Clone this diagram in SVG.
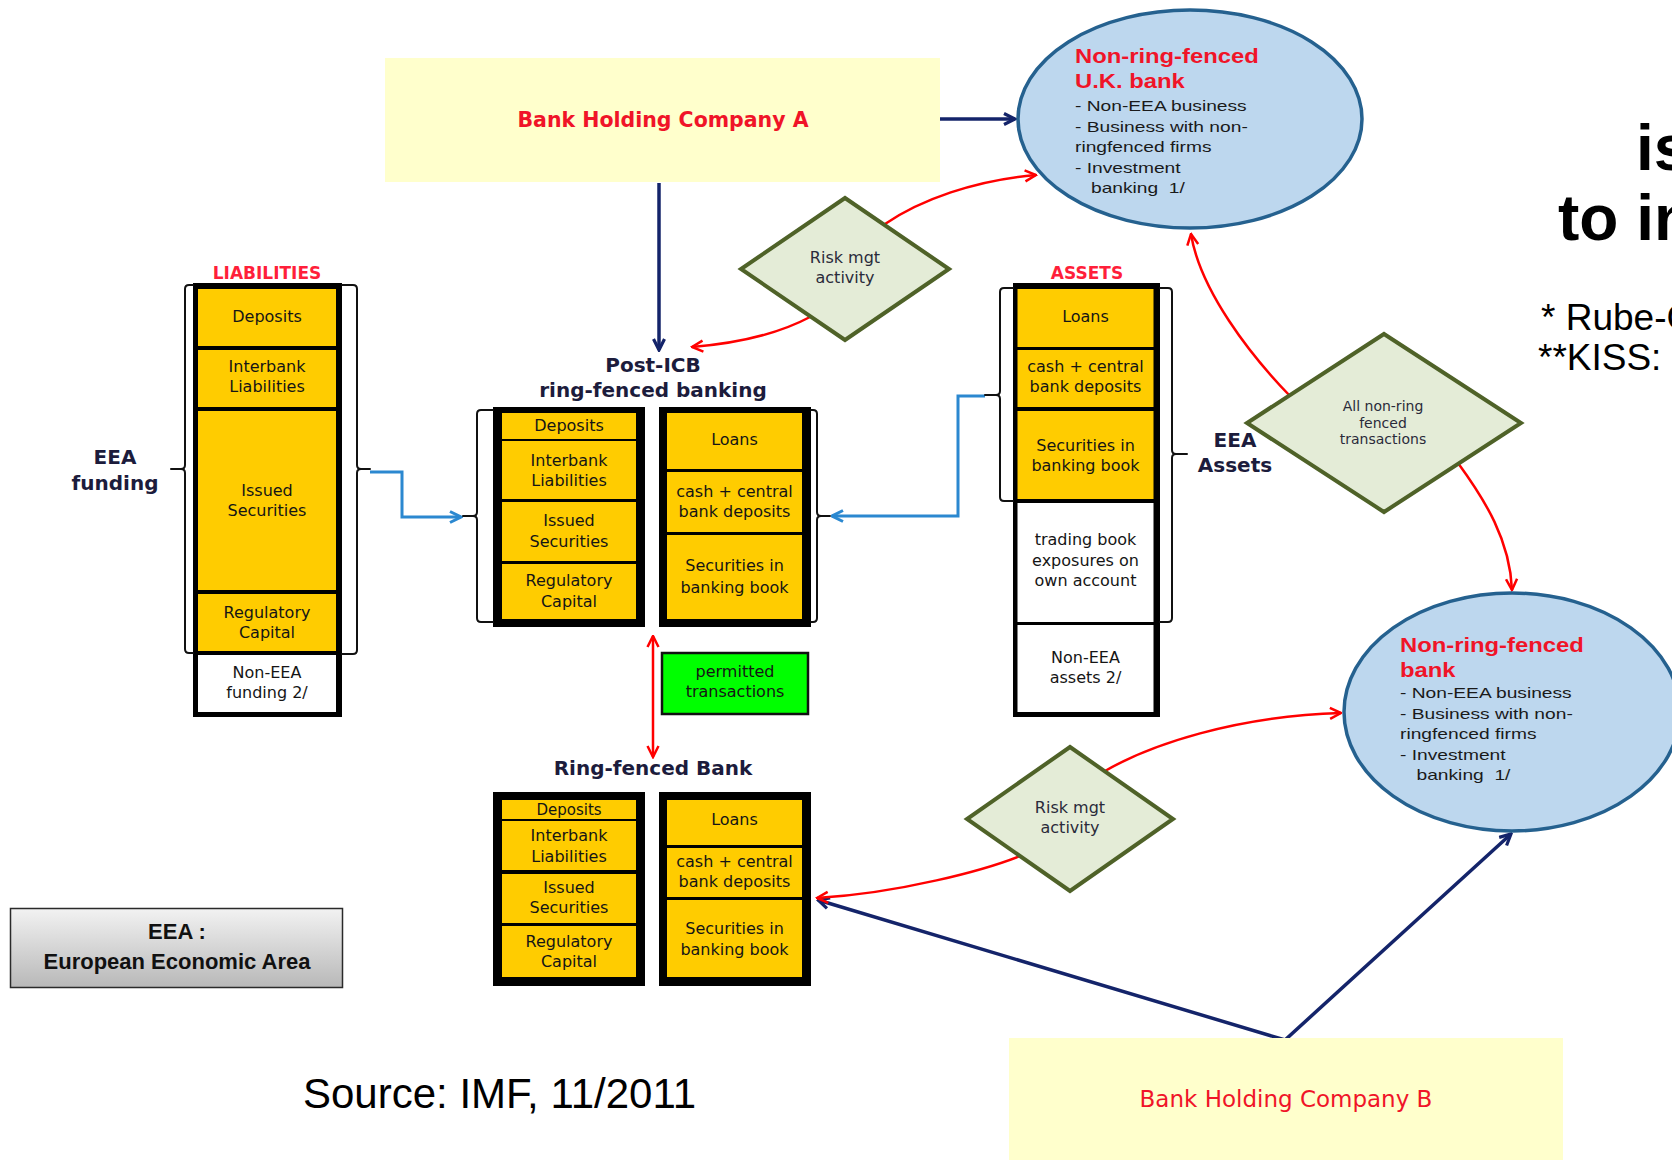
<svg xmlns="http://www.w3.org/2000/svg" width="1672" height="1160" viewBox="0 0 1672 1160">
<defs>
<style>
.bx{font-family:"DejaVu Sans",sans-serif;font-size:16px;fill:#151515;text-anchor:middle}
.ttl{font-family:"DejaVu Sans",sans-serif;font-weight:bold;font-size:20px;fill:#1c1c3c;text-anchor:middle}
.lbl{font-family:"DejaVu Sans",sans-serif;font-weight:bold;font-size:17px;fill:#ff1f3a;text-anchor:middle}
.dm{font-family:"DejaVu Sans",sans-serif;font-size:16px;fill:#2a2a3a;text-anchor:middle}
.elt{font-family:"Liberation Sans",Arial,sans-serif;font-weight:bold;font-size:20px;fill:#f01428}
.elb{font-family:"Liberation Sans",Arial,sans-serif;font-size:15px;fill:#1a1a1a}
.outer{fill:#000}
.y{fill:#ffcc00}
.w{fill:#fff}
.br{fill:none;stroke:#111;stroke-width:2;stroke-linecap:round}
.dia{fill:#e4ecd7;stroke:#4f6228;stroke-width:4;stroke-linejoin:miter}
.ell{fill:#bdd7ee;stroke:#25618f;stroke-width:3.5}
.bhc{fill:#ffffcc}
.red{fill:none;stroke:#ff0000;stroke-width:2.5}
.blue{fill:none;stroke:#2b88d0;stroke-width:3}
.navy{fill:none;stroke:#14246a;stroke-width:3.5}
</style>
<marker id="arR" viewBox="0 0 14 14" refX="12.5" refY="7" markerWidth="14" markerHeight="14" markerUnits="userSpaceOnUse" orient="auto-start-reverse"><path d="M1.5,1.5 L12.5,7 L1.5,12.5" fill="none" stroke="#ff0000" stroke-width="2.5"/></marker>
<marker id="arB" viewBox="0 0 14 14" refX="12.5" refY="7" markerWidth="14" markerHeight="14" markerUnits="userSpaceOnUse" orient="auto-start-reverse"><path d="M1.5,1.5 L12.5,7 L1.5,12.5" fill="none" stroke="#2b88d0" stroke-width="3"/></marker>
<marker id="arN" viewBox="0 0 14 14" refX="12.5" refY="7" markerWidth="14" markerHeight="14" markerUnits="userSpaceOnUse" orient="auto-start-reverse"><path d="M1.5,1.5 L12.5,7 L1.5,12.5" fill="none" stroke="#14246a" stroke-width="3.2"/></marker>
<linearGradient id="gl" x1="0" y1="0" x2="0" y2="1"><stop offset="0" stop-color="#f2f2f2"/><stop offset="1" stop-color="#b8b8b8"/></linearGradient>
</defs>
<rect width="1672" height="1160" fill="#fff"/>

<g id="connectors">
<path class="navy" d="M940,119 H1015" marker-end="url(#arN)"/>
<path class="navy" d="M659,183 V350" marker-end="url(#arN)"/>
<path class="navy" d="M818,900 L1285,1040 L1511,834" marker-start="url(#arN)" marker-end="url(#arN)"/>
<path class="red" d="M1036,175 C975,180 920,200 885,224 L810,317 C780,333 740,343 692,347" marker-start="url(#arR)" marker-end="url(#arR)"/>
<path class="red" d="M1191,234 C1200,290 1250,355 1291,397 L1458,463 C1485,500 1510,540 1512,590" marker-start="url(#arR)" marker-end="url(#arR)"/>
<path class="red" d="M1341,713 C1235,716 1150,745 1105,771 L1020,856 C985,870 900,893 817,898" marker-start="url(#arR)" marker-end="url(#arR)"/>
<path class="red" d="M653,636 V757" marker-start="url(#arR)" marker-end="url(#arR)"/>
<path class="blue" d="M370,472 H402 V517 H461" marker-end="url(#arB)"/>
<path class="blue" d="M985,396 H958 V516 H832" marker-end="url(#arB)"/>
</g>

<g id="bhc-a">
<rect class="bhc" x="385" y="58" width="555" height="124"/>
<text x="663" y="127" style="font-family:'DejaVu Sans',sans-serif;font-weight:bold;font-size:20.5px;fill:#f01428;text-anchor:middle">Bank Holding Company A</text>
</g>

<g id="bhc-b">
<rect class="bhc" x="1009" y="1038" width="554" height="130"/>
<text x="1286" y="1107" style="font-family:'DejaVu Sans',sans-serif;font-size:23px;fill:#f01428;text-anchor:middle">Bank Holding Company B</text>
</g>

<g id="liabilities">
<text class="lbl" x="267" y="279">LIABILITIES</text>
<rect class="outer" x="193" y="283" width="149" height="434"/>
<rect class="y" x="198" y="289" width="138" height="57"/>
<rect class="y" x="198" y="350" width="138" height="57"/>
<rect class="y" x="198" y="411" width="138" height="179"/>
<rect class="y" x="198" y="594" width="138" height="57"/>
<rect class="w" x="198" y="655" width="138" height="57"/>
<text class="bx" x="267" y="322">Deposits</text>
<text class="bx" x="267" y="372">Interbank</text>
<text class="bx" x="267" y="392">Liabilities</text>
<text class="bx" x="267" y="496">Issued</text>
<text class="bx" x="267" y="516">Securities</text>
<text class="bx" x="267" y="618">Regulatory</text>
<text class="bx" x="267" y="638">Capital</text>
<text class="bx" x="267" y="678">Non-EEA</text>
<text class="bx" x="267" y="698">funding 2/</text>
<path class="br" d="M193,285 H189 Q185,285 185,289 V465 Q185,469 181,469 H171 M181,469 Q185,469 185,473 V649 Q185,653 189,653 H193"/>
<path class="br" d="M342,285 H353 Q357,285 357,289 V465 Q357,469 361,469 H370 M361,469 Q357,469 357,473 V650 Q357,654 353,654 H342"/>
<text class="ttl" x="115" y="464">EEA</text>
<text class="ttl" x="115" y="490">funding</text>
</g>

<g id="post-icb">
<text class="ttl" x="653" y="372">Post-ICB</text>
<text class="ttl" x="653" y="397">ring-fenced banking</text>
<rect class="outer" x="493" y="407" width="152" height="220"/>
<rect class="y" x="502" y="413" width="134" height="26"/>
<rect class="y" x="502" y="441" width="134" height="58"/>
<rect class="y" x="502" y="502" width="134" height="59"/>
<rect class="y" x="502" y="564" width="134" height="55"/>
<text class="bx" x="569" y="431">Deposits</text>
<text class="bx" x="569" y="466">Interbank</text>
<text class="bx" x="569" y="486">Liabilities</text>
<text class="bx" x="569" y="526">Issued</text>
<text class="bx" x="569" y="547">Securities</text>
<text class="bx" x="569" y="586">Regulatory</text>
<text class="bx" x="569" y="607">Capital</text>
<rect class="outer" x="659" y="407" width="152" height="220"/>
<rect class="y" x="667" y="413" width="135" height="56"/>
<rect class="y" x="667" y="472" width="135" height="60"/>
<rect class="y" x="667" y="535" width="135" height="84"/>
<text class="bx" x="734.5" y="445">Loans</text>
<text class="bx" x="734.5" y="497">cash + central</text>
<text class="bx" x="734.5" y="517">bank deposits</text>
<text class="bx" x="734.5" y="571">Securities in</text>
<text class="bx" x="734.5" y="593">banking book</text>
<path class="br" d="M493,410 H481 Q477,410 477,414 V512 Q477,516 473,516 H463 M473,516 Q477,516 477,520 V618 Q477,622 481,622 H493"/>
<path class="br" d="M811,410 H813 Q817,410 817,414 V512 Q817,516 821,516 H830 M821,516 Q817,516 817,520 V618 Q817,622 813,622 H811"/>
</g>

<g id="permitted">
<rect x="662" y="653" width="146" height="61" fill="#00ff00" stroke="#111" stroke-width="2.5"/>
<text class="bx" x="735" y="677">permitted</text>
<text class="bx" x="735" y="697">transactions</text>
</g>

<g id="ring-fenced-bank">
<text class="ttl" x="653" y="775">Ring-fenced Bank</text>
<rect class="outer" x="493" y="792" width="152" height="194"/>
<rect class="y" x="502" y="800" width="134" height="19"/>
<rect class="y" x="502" y="821" width="134" height="49"/>
<rect class="y" x="502" y="874" width="134" height="49"/>
<rect class="y" x="502" y="926" width="134" height="51"/>
<text class="bx" x="569" y="815" style="font-size:15px">Deposits</text>
<text class="bx" x="569" y="841">Interbank</text>
<text class="bx" x="569" y="862">Liabilities</text>
<text class="bx" x="569" y="893">Issued</text>
<text class="bx" x="569" y="913">Securities</text>
<text class="bx" x="569" y="947">Regulatory</text>
<text class="bx" x="569" y="967">Capital</text>
<rect class="outer" x="659" y="792" width="152" height="194"/>
<rect class="y" x="667" y="800" width="135" height="45"/>
<rect class="y" x="667" y="848" width="135" height="49"/>
<rect class="y" x="667" y="900" width="135" height="77"/>
<text class="bx" x="734.5" y="825">Loans</text>
<text class="bx" x="734.5" y="867">cash + central</text>
<text class="bx" x="734.5" y="887">bank deposits</text>
<text class="bx" x="734.5" y="934">Securities in</text>
<text class="bx" x="734.5" y="955">banking book</text>
</g>

<g id="assets">
<text class="lbl" x="1087" y="279">ASSETS</text>
<rect class="outer" x="1013" y="283" width="147" height="434"/>
<rect class="y" x="1017.5" y="289" width="136" height="58"/>
<rect class="y" x="1017.5" y="350" width="136" height="57"/>
<rect class="y" x="1017.5" y="411" width="136" height="88"/>
<rect class="w" x="1017.5" y="503" width="136" height="119"/>
<rect class="w" x="1017.5" y="625" width="136" height="87"/>
<text class="bx" x="1085.5" y="322">Loans</text>
<text class="bx" x="1085.5" y="372">cash + central</text>
<text class="bx" x="1085.5" y="392">bank deposits</text>
<text class="bx" x="1085.5" y="451">Securities in</text>
<text class="bx" x="1085.5" y="471">banking book</text>
<text class="bx" x="1085.5" y="545">trading book</text>
<text class="bx" x="1085.5" y="566">exposures on</text>
<text class="bx" x="1085.5" y="586">own account</text>
<text class="bx" x="1085.5" y="663">Non-EEA</text>
<text class="bx" x="1085.5" y="683">assets 2/</text>
<path class="br" d="M1013,288 H1004 Q1000,288 1000,292 V391 Q1000,395 996,395 H985 M996,395 Q1000,395 1000,399 V497 Q1000,501 1004,501 H1013"/>
<path class="br" d="M1160,288 H1168 Q1172,288 1172,292 V450 Q1172,454 1176,454 H1187 M1176,454 Q1172,454 1172,458 V618 Q1172,622 1168,622 H1160"/>
<text class="ttl" x="1235" y="447">EEA</text>
<text class="ttl" x="1235" y="472">Assets</text>
</g>

<g id="risk-top">
<polygon class="dia" points="845,198 949,269 845,340 741,269"/>
<text class="dm" x="845" y="263">Risk mgt</text>
<text class="dm" x="845" y="283">activity</text>
</g>

<g id="risk-bottom">
<polygon class="dia" points="1070,747 1173,819 1070,891 967,819"/>
<text class="dm" x="1070" y="813">Risk mgt</text>
<text class="dm" x="1070" y="833">activity</text>
</g>

<g id="all-non-ring">
<polygon class="dia" points="1384,334 1521,423 1384,512 1247,423"/>
<text class="dm" x="1383" y="411" style="font-size:14px">All non-ring</text>
<text class="dm" x="1383" y="428" style="font-size:14px">fenced</text>
<text class="dm" x="1383" y="444" style="font-size:14px">transactions</text>
</g>

<g id="uk-bank">
<ellipse class="ell" cx="1190" cy="119" rx="172" ry="109"/>
<g transform="translate(1075,0) scale(1.19,1)">
<text class="elt" x="0" y="62.7">Non-ring-fenced</text>
<text class="elt" x="0" y="88">U.K. bank</text>
</g>
<g transform="translate(1075,0) scale(1.28,1)">
<text class="elb" x="0" y="111">- Non-EEA business</text>
<text class="elb" x="0" y="131.7">- Business with non-</text>
<text class="elb" x="0" y="151.7">ringfenced firms</text>
<text class="elb" x="0" y="172.7">- Investment</text>
<text class="elb" x="12.5" y="192.7" xml:space="preserve">banking  1/</text>
</g>
</g>

<g id="non-rf-bank">
<ellipse class="ell" cx="1512" cy="712" rx="168" ry="119"/>
<g transform="translate(1400,0) scale(1.19,1)">
<text class="elt" x="0" y="651.7">Non-ring-fenced</text>
<text class="elt" x="0" y="676.7">bank</text>
</g>
<g transform="translate(1400,0) scale(1.28,1)">
<text class="elb" x="0" y="698.3">- Non-EEA business</text>
<text class="elb" x="0" y="719.3">- Business with non-</text>
<text class="elb" x="0" y="739.3">ringfenced firms</text>
<text class="elb" x="0" y="760">- Investment</text>
<text class="elb" x="12.9" y="780" xml:space="preserve">banking  1/</text>
</g>
</g>

<g id="legend">
<rect x="10.5" y="908.5" width="332" height="79" fill="url(#gl)" stroke="#2a2a2a" stroke-width="1.5"/>
<text x="177" y="939" style="font-family:'Liberation Sans',Arial,sans-serif;font-weight:bold;font-size:22px;fill:#111;text-anchor:middle">EEA :</text>
<text x="177" y="969" style="font-family:'Liberation Sans',Arial,sans-serif;font-weight:bold;font-size:22px;fill:#111;text-anchor:middle">European Economic Area</text>
</g>

<g id="slide-text" style="font-family:'Liberation Sans',Arial,sans-serif;fill:#000">
<text x="303" y="1108" font-size="43" textLength="393" lengthAdjust="spacingAndGlyphs">Source: IMF, 11/2011</text>
<text x="1636" y="170" font-size="64" font-weight="bold">is</text>
<text x="1558" y="240" font-size="64" font-weight="bold">to in</text>
<text x="1541" y="330" font-size="37">* Rube-G</text>
<text x="1538" y="370" font-size="37">**KISS:</text>
</g>
</svg>
